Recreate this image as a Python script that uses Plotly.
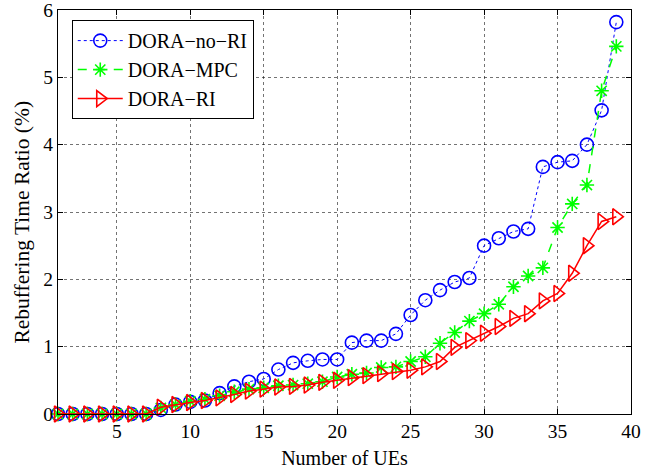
import plotly.graph_objects as go

num_ues = list(range(1, 40))
dora_no_ri = [0, 0, 0, 0, 0, 0, 0, 0.06, 0.14, 0.18, 0.20, 0.31, 0.41, 0.48, 0.52, 0.66, 0.76, 0.79, 0.81, 0.81,
              1.06, 1.09, 1.09, 1.19, 1.47, 1.69, 1.84, 1.96, 2.02, 2.50, 2.61, 2.71, 2.75, 3.67, 3.74, 3.76, 4.00, 4.51, 5.82]
dora_mpc = [0, 0, 0, 0, 0, 0, 0, 0.09, 0.14, 0.19, 0.22, 0.27, 0.33, 0.37, 0.39, 0.42, 0.43, 0.45, 0.48, 0.55,
            0.59, 0.61, 0.69, 0.70, 0.78, 0.85, 1.05, 1.21, 1.38, 1.49, 1.63, 1.89, 2.05, 2.17, 2.77, 3.12, 3.40, 4.80, 5.46]
dora_ri = [0, 0, 0, 0, 0, 0, 0, 0.10, 0.14, 0.17, 0.20, 0.24, 0.29, 0.34, 0.37, 0.40, 0.41, 0.43, 0.47, 0.50,
           0.54, 0.57, 0.60, 0.63, 0.65, 0.70, 0.78, 0.99, 1.09, 1.20, 1.30, 1.42, 1.49, 1.68, 1.79, 2.09, 2.50, 2.86, 2.93]
x_ticks = [5, 10, 15, 20, 25, 30, 35, 40]
y_ticks = [0, 1, 2, 3, 4, 5, 6]

FONT = "Liberation Serif"

fig = go.Figure()
fig.add_trace(go.Scatter(
    x=num_ues, y=dora_no_ri, name="DORA−no−RI", mode="lines+markers",
    line=dict(color="#0000ff", width=1, dash="dot"),
    marker=dict(symbol="circle-open", size=13, color="#0000ff", line=dict(width=1.6, color="#0000ff")),
    cliponaxis=False))
fig.add_trace(go.Scatter(
    x=num_ues, y=dora_mpc, name="DORA−MPC", mode="lines+markers",
    line=dict(color="#00ff00", width=1.5, dash="dash"),
    marker=dict(symbol="asterisk-open", size=12, color="#00ff00", line=dict(width=1.6, color="#00ff00")),
    cliponaxis=False))
fig.add_trace(go.Scatter(
    x=num_ues, y=dora_ri, name="DORA−RI", mode="lines+markers",
    line=dict(color="#ff0000", width=1.5),
    marker=dict(symbol="triangle-right-open", size=14, color="#ff0000", line=dict(width=1.6, color="#ff0000")),
    cliponaxis=False))

axis_common = dict(
    showline=True, linecolor="black", linewidth=1, mirror="ticks",
    ticks="inside", ticklen=5, tickcolor="black", tickwidth=1,
    showgrid=True, gridcolor="rgba(0,0,0,0.55)", griddash="dot", gridwidth=1,
    zeroline=False, tickfont=dict(family=FONT, size=19.5, color="black"),
    automargin=False, ticklabeloverflow="allow",
)

fig.update_layout(
    width=663, height=471,
    margin=dict(l=58, r=32, t=10, b=57),
    paper_bgcolor="white", plot_bgcolor="white",
    font=dict(family=FONT, size=20, color="black"),
    xaxis=dict(range=[1, 40], tickvals=x_ticks,
               title=dict(text="Number of UEs", font=dict(family=FONT, size=20), standoff=9),
               **axis_common),
    yaxis=dict(range=[0, 6], tickvals=y_ticks, **axis_common),
    legend=dict(x=0.024, y=0.975, xanchor="left", yanchor="top",
                bgcolor="white", bordercolor="black", borderwidth=1,
                font=dict(family=FONT, size=20), tracegroupgap=0, itemwidth=45),
    showlegend=True,
    annotations=[dict(text="Rebuffering Time Ratio (%)", xref="paper", yref="paper",
                      x=-0.062, y=0.475, xanchor="center", yanchor="middle", textangle=-90,
                      showarrow=False, font=dict(family=FONT, size=21.5, color="black"))],
)

fig.write_html("out.html")
